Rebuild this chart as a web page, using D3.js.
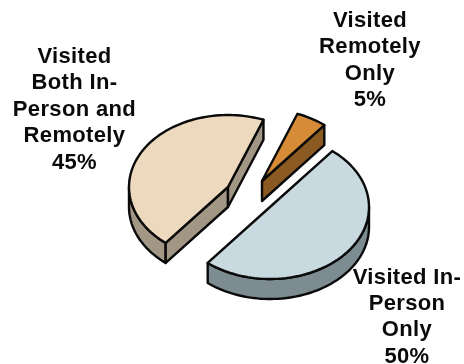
<!DOCTYPE html>
<html>
<head>
<meta charset="utf-8">
<script src="https://cdn.jsdelivr.net/npm/d3@7"></script>
<style>
html,body{margin:0;padding:0;background:#fff;}
svg{display:block;filter:blur(0.45px);}
text{font-family:"Liberation Sans",Arial,sans-serif;font-weight:700;font-size:22px;letter-spacing:0.35px;fill:#0a0a0a;text-anchor:middle;}
</style>
</head>
<body>
<svg id="c" width="464" height="364"></svg>
<script>
const categories = ["Visited In-Person Only", "Visited Both In-Person and Remotely", "Visited Remotely Only"];
const values = [50, 45, 5];
const labelLines = [
  ["Visited In-", "Person", "Only", "50%"],
  ["Visited", "Both In-", "Person and", "Remotely", "45%"],
  ["Visited", "Remotely", "Only", "5%"]
];
const topColors = ["#c9d9e0", "#edd9bd", "#d68c36"];
const sideColors = ["#7d8c90", "#a29684", "#8a5a22"];
const centers = [[270, 207], [228, 187], [262, 181]];
const labelPos = [[407, 283.5], [74.5, 63], [370, 27]];

const RX = 99, RY = 72, DEPTH = 20, LH = 26.4;
const svg = d3.select("#c");
const rad = d => d * Math.PI / 180;

const arcs = d3.pie().sort(null).startAngle(rad(39)).endAngle(rad(399))(values);
const sx = d3.scaleLinear().domain([-1, 1]).range([-RX, RX]);
const sy = d3.scaleLinear().domain([-1, 1]).range([-RY, RY]);
const line = d3.line();
const pt = (a, c, dz = 0) => [c[0] + sx(Math.sin(a)), c[1] - sy(Math.cos(a)) + dz];
const sweep = (a0, a1, c, dz) => {
  const n = Math.max(2, Math.ceil((a1 - a0) / rad(2)));
  return d3.range(n + 1).map(i => pt(a0 + (a1 - a0) * i / n, c, dz));
};
const poly = (pts, fill) => svg.append("path")
  .attr("d", line(pts) + "Z").attr("fill", fill)
  .attr("stroke", "#0a0a0a").attr("stroke-width", 2.4).attr("stroke-linejoin", "round");

[1, 2, 0].forEach(i => {
  const d = arcs[i], c = centers[i];
  const a0 = d.startAngle, a1 = d.endAngle;
  const down = p => [p[0], p[1] + DEPTH];
  // outer wall: only the front half of the rim faces the viewer
  const w0 = Math.max(a0, rad(90)), w1 = Math.min(a1, rad(270));
  if (w1 > w0) poly(sweep(w0, w1, c, 0).concat(sweep(w0, w1, c, DEPTH).reverse()), sideColors[i]);
  // cut faces that look toward the viewer
  if (Math.sin(a0) < 0) { const p = pt(a0, c); poly([c, p, down(p), down(c)], sideColors[i]); }
  if (Math.sin(a1) > 0) { const p = pt(a1, c); poly([c, p, down(p), down(c)], sideColors[i]); }
  poly([c].concat(sweep(a0, a1, c, 0)), topColors[i]);
});

labelLines.forEach((ls, i) => {
  const t = svg.append("text").attr("x", labelPos[i][0]).attr("y", labelPos[i][1]);
  ls.forEach((s, j) => t.append("tspan").attr("x", labelPos[i][0]).attr("y", labelPos[i][1] + j * LH).text(s));
});
</script>
</body>
</html>
